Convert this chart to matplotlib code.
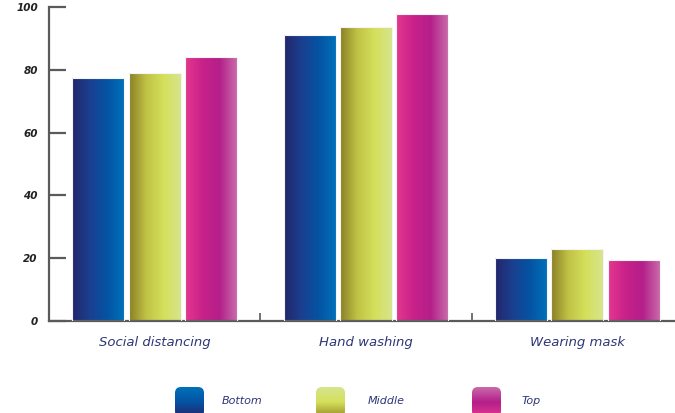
import numpy as np
import matplotlib.pyplot as plt
from matplotlib.colors import LinearSegmentedColormap
from matplotlib.patches import FancyBboxPatch

categories = ["Social distancing", "Hand washing", "Wearing mask"]
series = ["Bottom", "Middle", "Top"]
bottom = [77.4, 91.1, 20.1]
middle = [79.0, 93.6, 22.9]
top = [84.1, 97.8, 19.4]
values = [bottom, middle, top]
yticks = [0, 20, 40, 60, 80, 100]

# horizontal gradients across each bar (left -> right)
bar_colors = [
    ["#23266a", "#1b3f8f", "#0553a3", "#0070ba"],
    ["#8a7f26", "#c0c246", "#d4e05a", "#d7e48e"],
    ["#e4388f", "#c92189", "#b41f8a", "#c96ba9"],
]
cmaps = [LinearSegmentedColormap.from_list(s, c) for s, c in zip(series, bar_colors)]

text_col = "#2d3678"
axis_col = "#5a5a5a"

fig = plt.figure(figsize=(6.75, 4.13), dpi=100)
ax = fig.add_axes([49 / 675, 92 / 413, 634 / 675, 314 / 413])

x = np.arange(len(categories))
width = 0.246
step = 0.267
grad = np.linspace(0, 1, 256).reshape(1, -1)

for i, (name, vals) in enumerate(zip(series, values)):
    bars = ax.bar(x + (i - 1) * step, vals, width, color="none",
                  edgecolor="#f4f4f4", linewidth=0.8, zorder=3)
    for b in bars:
        x0, w, h = b.get_x(), b.get_width(), b.get_height()
        im = ax.imshow(grad, cmap=cmaps[i], aspect="auto",
                       extent=[x0, x0 + w, 0, h], zorder=2)
        im.set_clip_path(b)

ax.set_xlim(-0.5, 2.5)
ax.set_ylim(0, 100)

for s in ["top", "right"]:
    ax.spines[s].set_visible(False)
for s in ["left", "bottom"]:
    ax.spines[s].set_color(axis_col)
    ax.spines[s].set_linewidth(1.6)

ax.set_yticks(yticks)
ax.set_yticklabels([str(t) for t in yticks], fontsize=7.5, fontweight="bold",
                   fontstyle="italic", color="#222222")
ax.tick_params(axis="y", direction="in", length=12, width=1.6, color=axis_col, pad=8)

# group boundary ticks on the x axis
ax.set_xticks([0.5, 1.5])
ax.set_xticklabels([])
ax.tick_params(axis="x", direction="in", length=6, width=1.2, color=axis_col)
for xi, cat in zip(x, categories):
    ax.text(xi, -7, cat, ha="center", va="center", fontsize=9.5,
            fontstyle="italic", color=text_col, clip_on=False)

# legend: rounded swatches with vertical gradients
legend_cols = [
    ["#23266a", "#0553a3", "#0070ba"],
    ["#9a8e2a", "#d4e05a", "#d7e48e"],
    ["#e4388f", "#b41f8a", "#c96ba9"],
]
lax = fig.add_axes([0, 0, 1, 1])
lax.set_xlim(0, 675)
lax.set_ylim(413, 0)
lax.axis("off")
vgrad = np.linspace(0, 1, 256).reshape(-1, 1)
swatch_x = [175, 316, 472]
label_x = [222, 368, 522]
for name, sx, tx, cols in zip(series, swatch_x, label_x, legend_cols):
    cm = LinearSegmentedColormap.from_list(name + "_leg", cols)
    box = FancyBboxPatch((sx, 387), 29, 30, boxstyle="round,pad=0,rounding_size=6",
                         facecolor="none", edgecolor="none")
    lax.add_patch(box)
    im = lax.imshow(vgrad[::-1], cmap=cm, aspect="auto",
                    extent=[sx, sx + 29, 417, 387])
    im.set_clip_path(box)
    lax.text(tx, 401, name, ha="left", va="center", fontsize=8,
             fontstyle="italic", color=text_col)

fig.savefig("out.png", dpi=100)
